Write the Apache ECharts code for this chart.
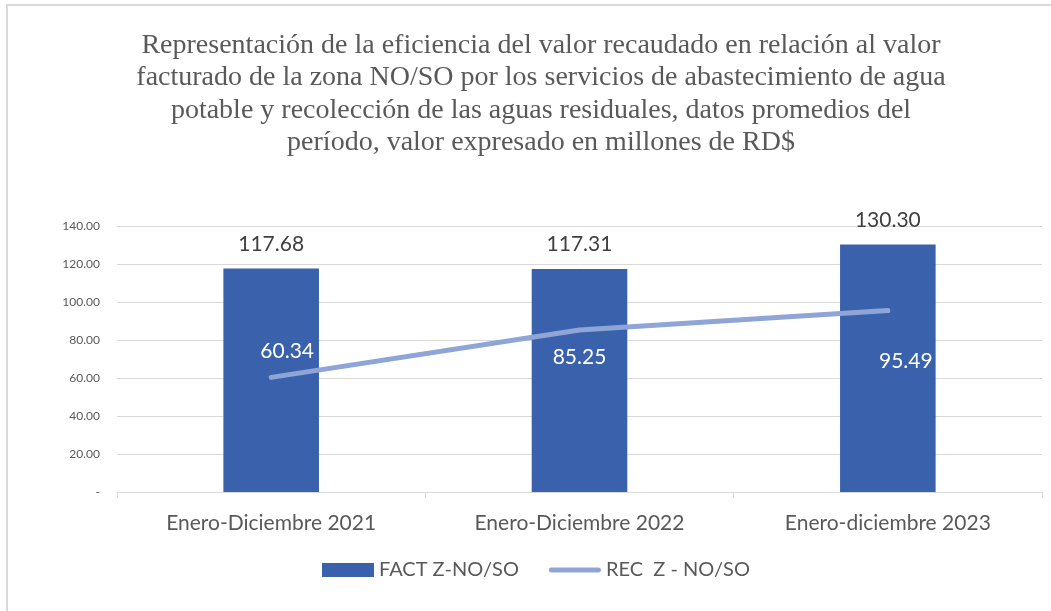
<!DOCTYPE html>
<html>
<head>
<meta charset="utf-8">
<script src="https://cdn.jsdelivr.net/npm/echarts@6/dist/echarts.min.js"></script>
<style>
    html, body { margin: 0; padding: 0; background: #ffffff; }
    #frame {
        position: absolute;
        left: 0; top: 0;
        width: 1051px; height: 611px;
        overflow: hidden;
    }
    #border {
        position: absolute;
        left: 6px; top: 4px;
        width: 1100px; height: 700px;
        border: 2px solid #d9d9d9;
        box-sizing: border-box;
    }
    #mainChart { position: absolute; left: 0; top: 0; width: 1051px; height: 611px; }
</style>
</head>
<body>
<div id="frame">
    <div id="border"></div>
    <div id="mainChart"></div>
</div>
<script>
const categories = ['Enero-Diciembre 2021', 'Enero-Diciembre 2022', 'Enero-diciembre 2023'];
const factValues = [117.68, 117.31, 130.30];
const recValues = [60.34, 85.25, 95.49];
const yTicks = [0, 20, 40, 60, 80, 100, 120, 140];

const titleText = 'Representación de la eficiencia del valor recaudado en relación al valor\n' +
    'facturado de la zona NO/SO por los servicios de abastecimiento de agua\n' +
    'potable y recolección de las aguas residuales, datos promedios del\n' +
    'período, valor expresado en millones de RD$';

// per-point label placement for the line, as in the picture
const recLabelPlace = [
    { position: 'top', offset: [16, -6] },
    { position: 'bottom', offset: [0, 7] },
    { position: 'bottom', offset: [18, 30] }
];

// thin rounded bar for the line legend; tiny dots at 0 and 14 keep the box 14 tall
const lineLegendIcon = 'path://M0,0 L0.01,0 L0,0.01 Z ' +
    'M2.5,4.5 L49.5,4.5 A2.5,2.5 0 0 1 49.5,9.5 L2.5,9.5 A2.5,2.5 0 0 1 2.5,4.5 Z ' +
    'M52,14 L51.99,14 L52,13.99 Z';

let chartDom = document.getElementById('mainChart');
let chart = echarts.init(chartDom, null, { renderer: 'canvas' });

let option = {
    backgroundColor: 'transparent',
    animation: false,
    textStyle: { fontFamily: 'Lato' },
    title: {
        text: titleText,
        left: 536,
        textAlign: 'center',
        top: 24,
        textStyle: {
            fontFamily: 'Liberation Serif',
            fontWeight: 'normal',
            fontSize: 28,
            lineHeight: 32.5,
            color: '#595959'
        }
    },
    legend: {
        bottom: 26,
        left: 317,
        itemGap: 30,
        itemWidth: 52,
        itemHeight: 14,
        textStyle: { color: '#595959', fontSize: 20, fontFamily: 'Lato' },
        data: [
            { name: 'FACT Z-NO/SO', icon: 'rect' },
            { name: 'REC  Z - NO/SO', icon: lineLegendIcon, itemStyle: { color: '#8FA5D8' } }
        ]
    },
    grid: {
        left: 117,
        right: 9,
        top: 226,
        bottom: 119,
        containLabel: false
    },
    xAxis: {
        type: 'category',
        data: categories,
        axisLine: { show: true, lineStyle: { color: '#d9d9d9', width: 1 } },
        axisTick: { show: true, length: 6, lineStyle: { color: '#d9d9d9' } },
        axisLabel: { color: '#595959', fontSize: 21, margin: 21, fontFamily: 'Lato' }
    },
    yAxis: {
        type: 'value',
        min: yTicks[0],
        max: yTicks[yTicks.length - 1],
        interval: 20,
        axisLine: { show: false },
        axisTick: { show: false },
        axisLabel: {
            color: '#595959',
            fontSize: 12,
            margin: 17,
            fontFamily: 'Lato',
            formatter: v => v === 0 ? '-' : v.toFixed(2)
        },
        splitLine: { lineStyle: { color: '#d9d9d9', width: 1 } }
    },
    series: [
        {
            name: 'FACT Z-NO/SO',
            type: 'bar',
            data: factValues,
            barWidth: '31%',
            itemStyle: { color: '#3A62AC' },
            label: {
                show: true,
                position: 'top',
                distance: 14,
                color: '#404040',
                fontSize: 21,
                fontFamily: 'Lato',
                formatter: p => p.value.toFixed(2)
            },
            z: 2
        },
        {
            name: 'REC  Z - NO/SO',
            type: 'line',
            data: recValues.map((v, i) => ({
                value: v,
                label: recLabelPlace[i]
            })),
            symbol: 'circle',
            symbolSize: 0,
            showSymbol: true,
            lineStyle: { color: '#8FA5D8', width: 5, cap: 'round' },
            itemStyle: { color: '#8FA5D8' },
            label: {
                show: true,
                color: '#ffffff',
                fontSize: 21,
                fontFamily: 'Lato',
                distance: 10,
                formatter: p => p.value.toFixed(2)
            },
            z: 3
        }
    ]
};

chart.setOption(option);

window.addEventListener('resize', () => {
    chart.resize();
});
</script>
</body>
</html>
